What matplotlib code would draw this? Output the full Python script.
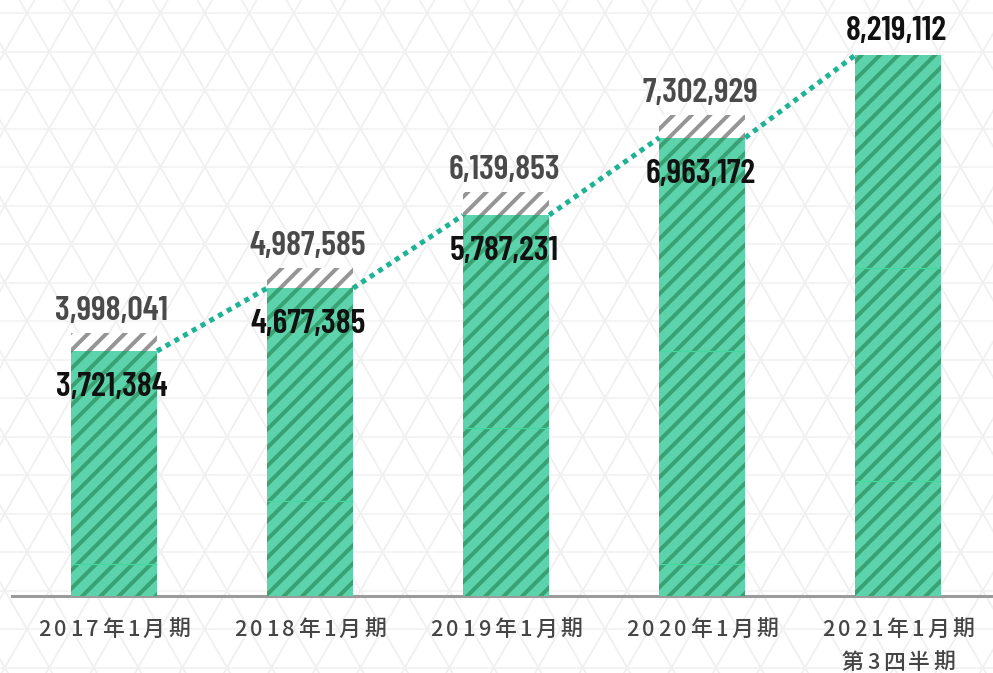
import numpy as np
import matplotlib
matplotlib.use("Agg")
import matplotlib.pyplot as plt

# ---------------- data ----------------
categories = ["2017年1月期", "2018年1月期", "2019年1月期", "2020年1月期", "2021年1月期\n第3四半期"]
green_values = [3721384, 4677385, 5787231, 6963172, 8219112]
total_values = [3998041, 4987585, 6139853, 7302929]
green_labels = ["3,721,384", "4,677,385", "5,787,231", "6,963,172", "8,219,112"]
total_labels = ["3,998,041", "4,987,585", "6,139,853", "7,302,929"]

# ---------------- style ----------------
DPI = 110
W, H = 993, 673
plt.rcParams["hatch.linewidth"] = 2.6
GREEN = "#5cd3aa"
GREEN_HATCH = "#38a275"
GREY_HATCH = "#959595"
LINE = "#1db394"
NUM_FONT = ["Barlow Condensed", "DejaVu Sans"]
NUM_WEIGHT = 600
CJK_FONT = ["Noto Sans CJK JP", "DejaVu Sans"]

fig = plt.figure(figsize=(W / DPI, H / DPI), dpi=DPI)
fig.patch.set_facecolor("white")
renderer = fig.canvas.get_renderer()

# background lattice axes (pixel coordinates, y down)
bg = fig.add_axes([0, 0, 1, 1], zorder=0)
bg.set_xlim(0, W)
bg.set_ylim(H, 0)
bg.axis("off")
h = 38.5
s = 2 * h / np.sqrt(3)
y0, x0 = 13.0, 27.0
for k in range(-1, 19):
    yy = y0 + h * k
    bg.plot([0, W], [yy, yy], color="#f4f4f4", lw=1.3, zorder=0)
ys = np.array([-60.0, H + 60.0])
for k in range(-30, 45):
    c = x0 + s * k
    bg.plot(c + (ys - y0) / np.sqrt(3), ys, color="#f0f0f0", lw=1.2, zorder=0)
    bg.plot(c - (ys - y0) / np.sqrt(3), ys, color="#f0f0f0", lw=1.2, zorder=0)

# main axes
ax = fig.add_axes([0, 0, 1, 1], zorder=1)
ax.set_facecolor("none")
ax.axis("off")
px_per_unit = 196.1
px_per_M = 65.82
base_px = 596
ax.set_xlim(-114 / px_per_unit, (W - 114) / px_per_unit)
ax.set_ylim(-(H - base_px) / px_per_M * 1e6, base_px / px_per_M * 1e6)

x = np.arange(len(categories))
w = 86 / px_per_unit

ax.axhline(0, xmin=12 / W, xmax=1, color="#9b9b9b", lw=2.0, zorder=1.5)

ax.bar(x, green_values, width=w, color=GREEN, edgecolor=GREEN_HATCH,
       hatch="//", linewidth=0, zorder=2)
diff = [t - g for t, g in zip(total_values, green_values)]
ax.bar(x[:len(total_values)], diff, bottom=green_values[:len(total_values)], width=w,
       color="white", edgecolor=GREY_HATCH, hatch="//", linewidth=0, zorder=2)

# faint tile seams inside the green bars
tile = 213 / px_per_M * 1e6
for xi, g in zip(x, green_values):
    yv = g - tile
    while yv > 0:
        ax.hlines(yv, xi - w / 2, xi + w / 2, color="#43d89d", lw=0.8, zorder=2.1)
        yv -= tile

# dotted connectors between bar tops
for i in range(len(x) - 1):
    ax.plot([x[i] + w / 2, x[i + 1] - w / 2], [green_values[i], green_values[i + 1]],
            color=LINE, lw=3.3, ls=(0, (1, 1)), dash_capstyle="butt", zorder=3)

# size the number font so that a label is ~113 px wide
probe = fig.text(0, 0, total_labels[0], fontsize=20, family=NUM_FONT, fontweight=NUM_WEIGHT)
pw = probe.get_window_extent(renderer).width
probe.remove()
NUM_SIZE = 20 * 113.0 / pw

for i, (xi, lab) in enumerate(zip(x, total_labels)):
    ax.annotate(lab, (xi, total_values[i]), xytext=(-2, 13), textcoords="offset pixels",
                ha="center", va="baseline", fontsize=NUM_SIZE, fontweight=NUM_WEIGHT,
                family=NUM_FONT, color="#4a4a4a", zorder=4)
for i, (xi, lab) in enumerate(zip(x, green_labels)):
    off = -45 if i < len(total_values) else 15
    ax.annotate(lab, (xi, green_values[i]), xytext=(-2, off), textcoords="offset pixels",
                ha="center", va="baseline", fontsize=NUM_SIZE, fontweight=NUM_WEIGHT,
                family=NUM_FONT, color="#111111", zorder=4)


# category labels with letter spacing
def text_w(txt, size):
    t = bg.text(0, 0, txt, fontsize=size, family=CJK_FONT, fontweight="medium")
    wpx = t.get_window_extent(renderer).width
    t.remove()
    return wpx


def spaced_text(txt, cx, cy, size=14.3, gap=3.4, color="#454545"):
    ref = text_w("HH", size)
    advs = [text_w("H" + c + "H", size) - ref for c in txt]
    total = sum(advs) + gap * (len(txt) - 1)
    xs = cx - total / 2
    for c, a in zip(txt, advs):
        bg.text(xs, cy, c, fontsize=size, family=CJK_FONT, color=color,
                fontweight="medium", ha="left", va="center", zorder=5)
        xs += a + gap


for xi, cat in zip(x, categories):
    cx = ax.transData.transform((xi, 0))[0]
    for j, ln in enumerate(cat.split("\n")):
        spaced_text(ln, cx, 630 + 33 * j)

fig.savefig("out.png", dpi=DPI, facecolor="white")
